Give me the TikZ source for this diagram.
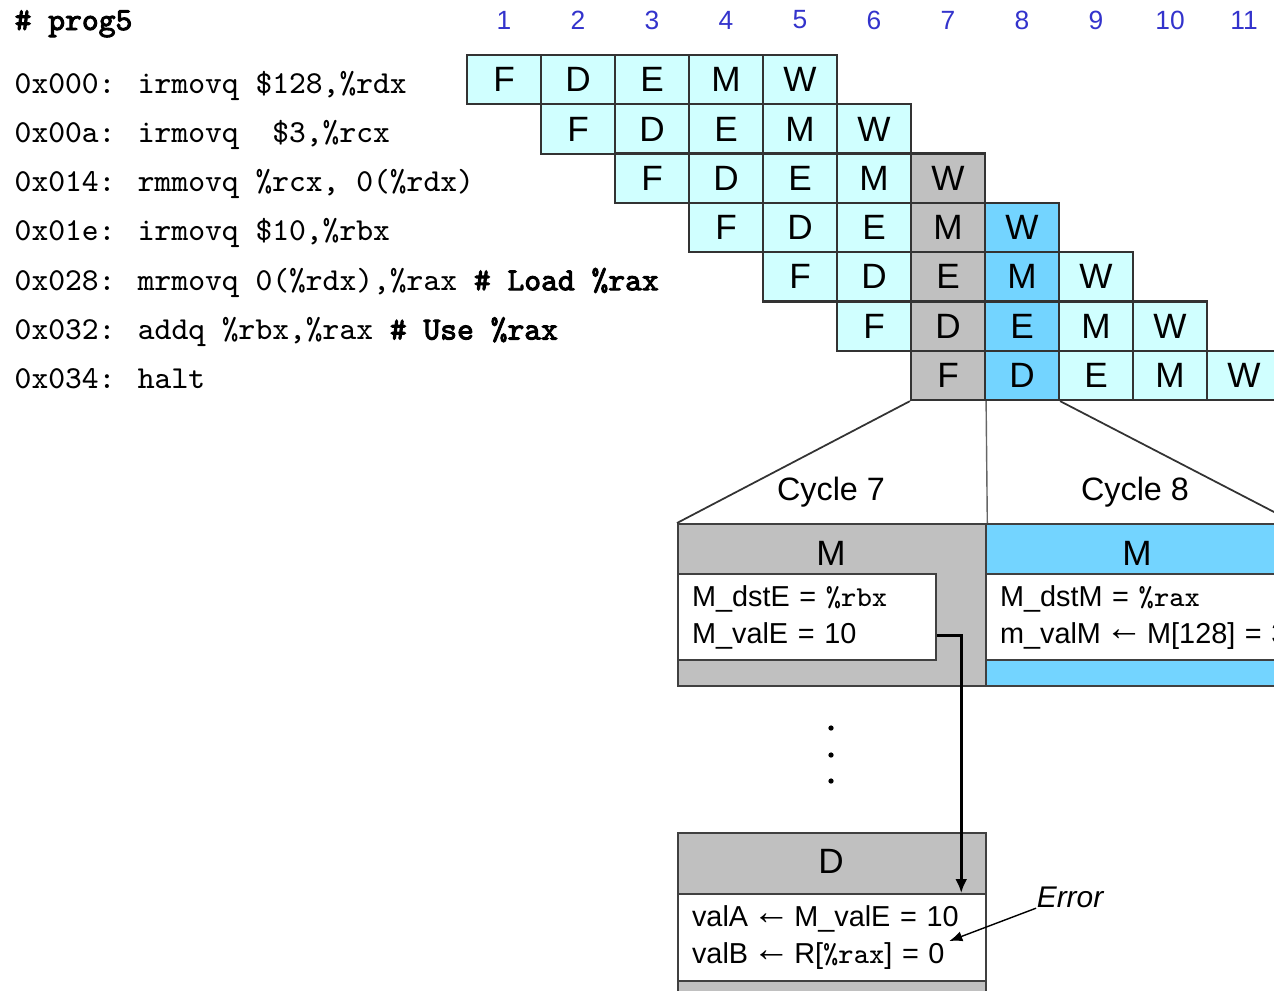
\documentclass[tikz,border=0pt]{standalone}
\usepackage{fontspec}
\setmainfont{Liberation Sans}
\newfontfamily\ttbold{lmmono10-regular.otf}[FakeBold=3]
\usetikzlibrary{positioning,arrows.meta}

\definecolor{stagec}{RGB}{208,255,255}
\definecolor{stageg}{RGB}{192,192,192}
\definecolor{stageb}{RGB}{115,212,255}
\definecolor{numblue}{RGB}{51,51,204}
\newcommand{\reg}[1]{{\ttfamily\%#1}}
\newcommand{\getsfrom}{\kern-1.5pt\raisebox{0.6pt}{\scalebox{1.3}{←}}\kern-1.5pt}

\begin{document}
\begin{tikzpicture}[x=0.01cm, y=-0.01cm, >={Latex[length=9pt/2.4,width=7pt/2.4]},
    font=\fontsize{8.2}{10.5}\selectfont]
  \tikzset{
    cell/.style={draw=black!80, line width=0.6pt, minimum width=0.74cm,
      minimum height=0.493cm, inner sep=0pt, font=\fontsize{10}{12}\selectfont},
    instr/.style={anchor=base west, inner sep=0pt, font=\ttfamily\fontsize{9.1}{11}\selectfont},
    cyclenum/.style={text=numblue, inner sep=0pt, font=\fontsize{7.5}{9}\selectfont},
    stagebox/.style={draw=black!75, line width=0.6pt, anchor=north west,
      minimum width=3.08cm, inner sep=0pt},
    regs/.style={draw=black!75, line width=0.6pt, fill=white, anchor=north west,
      align=left, inner xsep=0.14cm, inner ysep=0pt, minimum height=0.86cm},
    hdr/.style={font=\fontsize{10}{12}\selectfont, inner sep=0pt},
  }
  \useasboundingbox (0,0) rectangle (1274,990);

  % program listing
  \node[instr, font=\ttbold\fontsize{9.1}{11}\selectfont] (title) at (14,30) {\# prog5};
  \foreach \r/\txt in {0/{0x000: irmovq \$128,\%rdx},
                       1/{0x00a: irmovq\ \ \$3,\%rcx},
                       2/{0x014: rmmovq \%rcx, 0(\%rdx)},
                       3/{0x01e: irmovq \$10,\%rbx},
                       4/{0x028: mrmovq 0(\%rdx),\%rax {\ttbold\# Load \%rax}},
                       5/{0x032: addq \%rbx,\%rax {\ttbold\# Use \%rax}},
                       6/{0x034: halt}}
    \node[instr] (i\r) at (14, 93+49.3*\r) {\txt};

  % cycle numbers
  \foreach \c in {1,...,11}
    \node[cyclenum] (n\c) at (430+74*\c, 20) {\c};

  % pipeline stages, cycle 7 grey and cycle 8 blue
  \foreach \r in {0,...,6} {
    \foreach \s [count=\k from 1] in {F,D,E,M,W} {
      \pgfmathtruncatemacro\c{\r+\k}
      \def\fillc{stagec}
      \ifnum\c=7 \def\fillc{stageg}\fi
      \ifnum\c=8 \def\fillc{stageb}\fi
      \node[cell, fill=\fillc] (c\r-\c) at (430+74*\c, 79.6+49.3*\r) {\s};
    }
  }

  % close-up of cycles 7 and 8
  \node[stagebox, fill=stageg, minimum height=1.62cm] (m7) at (677,523) {};
  \node[stagebox, fill=stageb, minimum height=1.62cm] (m8) at (985,523) {};
  \node[hdr] (m7lbl) at (831,553) {M};
  \node[hdr] (m8lbl) at (1137,553) {M};
  \node[regs, text width=2.30cm] (m7regs) at (677,573) {M\_dstE = \reg{rbx}\\M\_valE = 10};
  \node[regs, text width=3.60cm] (m8regs) at (985,573)
    {M\_dstM = \reg{rax}\\m\_valM \getsfrom{} M[128] = 3};
  \node[font=\fontsize{9.2}{11}\selectfont] (cyc7) at (831,492) {Cycle 7};
  \node[font=\fontsize{9.2}{11}\selectfont] (cyc8) at (1135,492) {Cycle 8};
  \draw[black!80, line width=0.5pt] (c6-7.south west) -- (m7.north west);
  \draw[black!60, line width=0.4pt] (c6-7.south east) -- (m7.north east);
  \draw[black!80, line width=0.5pt] (c6-8.south east) -- (m8.north east);

  \foreach \y in {728,755,781}
    \fill (831,\y) circle (0.75pt);

  % decode stage of addq
  \node[stagebox, fill=stageg, minimum height=1.8cm] (dbox) at (677,832) {};
  \node[hdr] (dlbl) at (831,861) {D};
  \node[regs, text width=2.80cm, minimum height=0.87cm] (dregs) at (677,893)
    {valA \getsfrom{} M\_valE = 10\\valB \getsfrom{} R[\reg{rax}] = 0};

  \draw[-{Latex[length=0.14cm,width=0.12cm]}, line width=0.9pt]
    ([yshift=-0.18cm]m7regs.east) -| ([xshift=1.29cm]dregs.north);
  \node[inner sep=0pt, font=\itshape\fontsize{8.5}{10}\selectfont] (err) at (1070,897) {Error};
  \draw[->, line width=0.4pt] (err.south west) -- ([shift={(117,3.5)}]dregs.center);
\end{tikzpicture}
\end{document}
